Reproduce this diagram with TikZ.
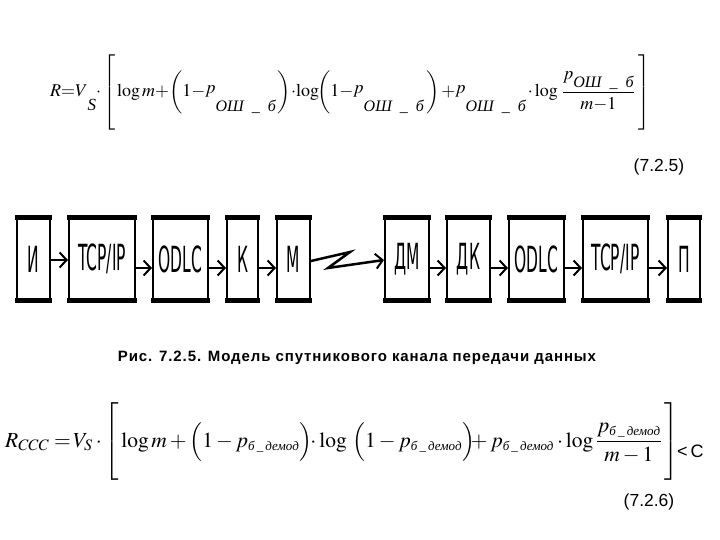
\documentclass[tikz,border=0pt]{standalone}
\usepackage{amsmath}
\usepackage{mathptmx}
\usepackage{fontspec}
\setmainfont{Liberation Serif}
\newfontfamily\arialf{Liberation Sans}
\newfontfamily\arialsp[LetterSpace=6]{Liberation Sans}
\newfontfamily\blockf{DejaVu Sans}
\usetikzlibrary{arrows.meta}
% subscripted p for eq. 7.2.5 (raised p, deeply lowered subscript)
\newcommand{\pO}{\raisebox{3pt}{$p$}\raisebox{-15pt}{\fontsize{16}{16}\selectfont\itshape ОШ\ \ \_\ \ б}}
\newcommand{\pN}{p\raisebox{-8pt}{\fontsize{16}{16}\selectfont\itshape ОШ\ \ \_\ \ б}}
\newcommand{\VS}{V\raisebox{-14pt}{\fontsize{17}{17}\selectfont\itshape S}}
% subscripted p for eq. 7.2.6
\newcommand{\pB}{p_{\text{\fontsize{13}{13}\selectfont\itshape б\,\_\,демод}}}
\tikzset{
  blk/.style={draw, line width=2pt, inner sep=0pt, minimum height=80pt, font=\blockf\fontsize{36}{36}\selectfont},
  conn/.style={line width=2.5pt, -{Straight Barb[length=7pt,width=15pt,line width=2pt]}},
  bar/.style={line width=5pt},
  eqa/.style={inner sep=0pt, anchor=base west, font=\fontsize{18}{20}\selectfont},
  eqb/.style={inner sep=0pt, anchor=base west, font=\fontsize{21.5}{24}\selectfont},
  num/.style={inner sep=0pt, font=\arialf\fontsize{17.5}{20}\selectfont},
  captxt/.style={inner sep=0pt, font=\arialsp\bfseries\fontsize{15}{18}\selectfont}
}
\newcommand{\bt}[1]{\scalebox{0.43}[1]{#1}}
\begin{document}
\begin{tikzpicture}[x=1pt,y=-1pt]
\useasboundingbox[fill=white] (0,0) rectangle (720,540);
% equation 7.2.5
\node[eqa] (eqA) at (50,97) {$R{=}\VS{\cdot}\left[\rule[-33pt]{0pt}{72pt}\log m{+}\biggl(1{-}\pO\,\biggr){\cdot}\mkern-2mu\log\mkern-2mu\biggl(1{-}\pO\,\biggr)\mkern2mu{+}\pO\,{\cdot}\log\mkern2mu\dfrac{\pN}{m{-}1}\mkern4mu\right]$};
\node[num] (nA) at (659,167) {(7.2.5)};
% blocks
\node[blk, minimum width=33pt] (b1) at (33.5,259) {\bt{И}};
\node[blk, minimum width=66pt] (b2) at (102,259) {\bt{TCP/IP}};
\node[blk, minimum width=55pt] (b3) at (180.5,259) {\bt{ODLC}};
\node[blk, minimum width=31pt] (b4) at (242.5,259) {\bt{К}};
\node[blk, minimum width=33pt] (b5) at (293.5,259) {\bt{М}};
\node[blk, minimum width=44pt] (b6) at (407,259) {\bt{ДМ}};
\node[blk, minimum width=43pt] (b7) at (468.5,259) {\bt{ДК}};
\node[blk, minimum width=55pt] (b8) at (536.5,259) {\bt{ODLC}};
\node[blk, minimum width=65pt] (b9) at (615.5,259) {\bt{TCP/IP}};
\node[blk, minimum width=32pt] (b10) at (684,259) {\bt{П}};
\foreach \n in {b1,b2,b3,b4,b5,b6,b7,b8,b9,b10}{
  \draw[bar] ([xshift=-1pt]\n.north west) -- ([xshift=1pt]\n.north east);
  \draw[bar] ([xshift=-1pt]\n.south west) -- ([xshift=1pt]\n.south east);
}
\draw[conn] ([yshift=-1pt]b1.east) -- ([yshift=-1pt]b2.west);
\foreach \a/\b in {b2/b3,b3/b4,b4/b5,b6/b7,b7/b8,b8/b9,b9/b10}{
  \draw[conn] ([yshift=-9pt]\a.east) -- ([yshift=-9pt]\b.west);
}
\coordinate (z1) at (350,252);
\coordinate (z2) at (328,268);
\draw[conn] ([yshift=-2pt]b5.east) -- (z1) -- (z2) -- ([yshift=-1pt]b6.west);
% caption
\node[captxt] (capt) at (357,358) {Рис. 7.2.5. Модель спутникового канала передачи данных};
% equation 7.2.6
\node[eqb] (eqB) at (5,447) {$R_{CCC}=\mkern-2mu V_S\cdot\left[\rule[-21pt]{0pt}{64pt}\log m+\Bigl(1-\pB\Bigr)\mkern-4mu\cdot\log\ \Bigl(1-\pB\Bigr)\mkern-6mu+\pB\cdot\log\dfrac{\pB}{m-1}\mkern2mu\right]$};
\node[num, anchor=base west, font=\arialf\fontsize{18}{20}\selectfont] (lt) at (677,457) {<\,C};
\node[num] (nB) at (649,502) {(7.2.6)};
\end{tikzpicture}
\end{document}
